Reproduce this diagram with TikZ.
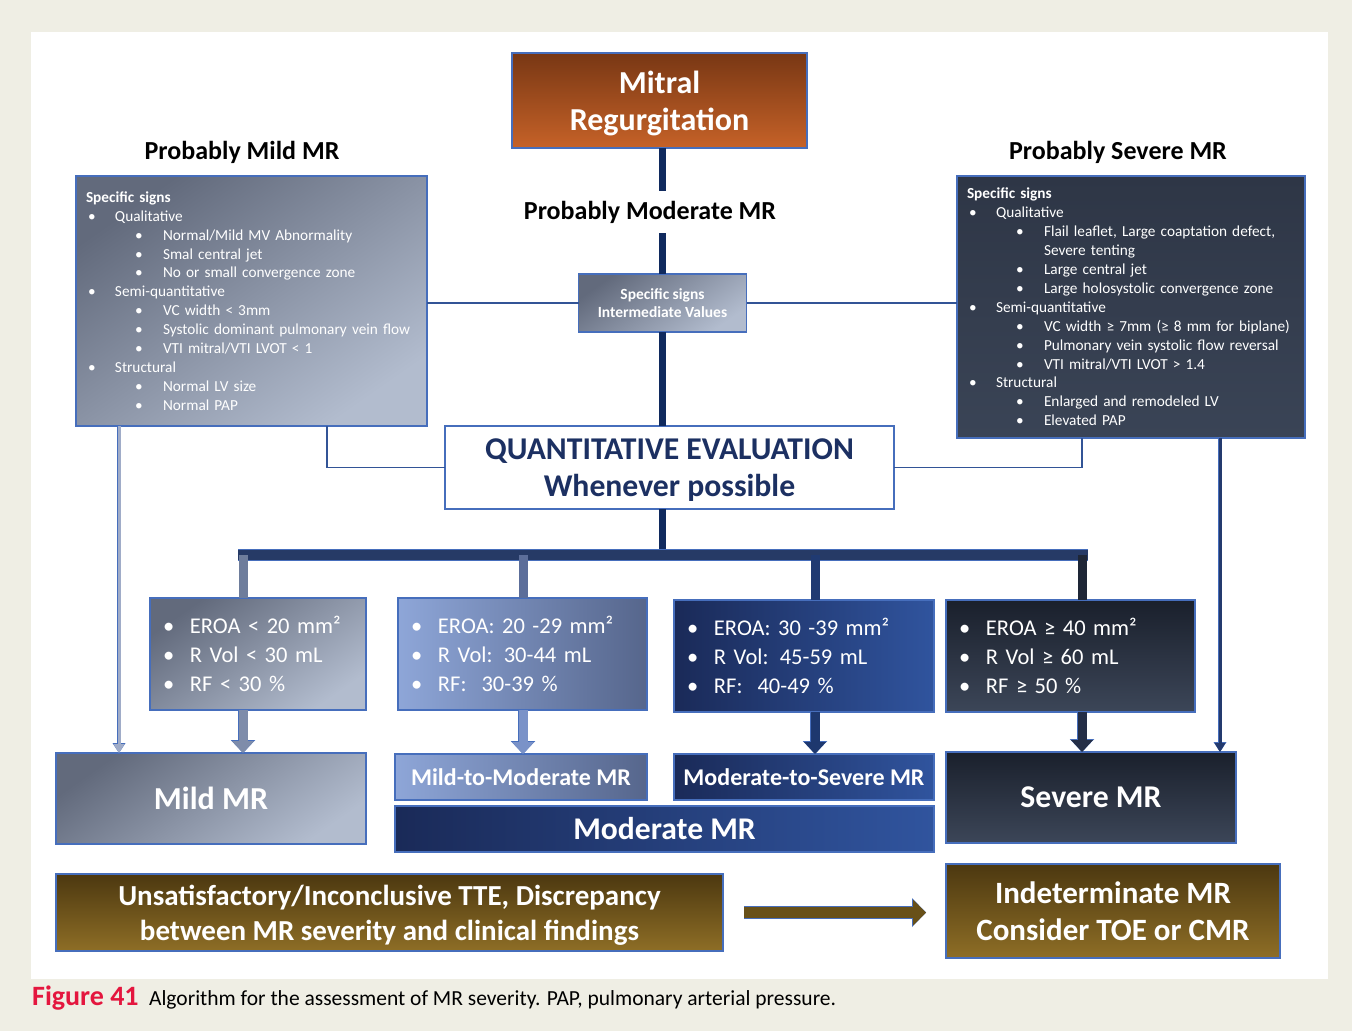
\documentclass[tikz,border=0pt]{standalone}
\usepackage{fontspec}
\setmainfont{Carlito}
\usepackage{tikz}
\usetikzlibrary{arrows.meta,positioning}

\definecolor{cream}{RGB}{239,238,228}
\definecolor{navy}{RGB}{16,42,94}
\definecolor{boxline}{RGB}{70,110,188}
\definecolor{linkblue}{RGB}{50,84,150}
\definecolor{slateA}{RGB}{98,106,124}
\definecolor{slateB}{RGB}{178,188,206}
\definecolor{nightA}{RGB}{46,54,70}
\definecolor{nightB}{RGB}{58,68,86}
\definecolor{rustA}{RGB}{120,55,20}
\definecolor{rustB}{RGB}{198,98,40}
\definecolor{skyA}{RGB}{142,166,216}
\definecolor{skyB}{RGB}{86,102,140}
\definecolor{royalA}{RGB}{26,42,88}
\definecolor{royalB}{RGB}{48,84,158}
\definecolor{inkA}{RGB}{26,32,44}
\definecolor{inkB}{RGB}{60,70,88}
\definecolor{oliveA}{RGB}{76,56,16}
\definecolor{oliveB}{RGB}{142,110,38}
\definecolor{quanttext}{RGB}{28,48,98}
\definecolor{figred}{RGB}{228,22,62}
\definecolor{busblue}{RGB}{38,58,102}

\newcommand{\sidefont}{\fontsize{15.3}{18.9}\selectfont}
\newcommand{\rowfont}{\fontsize{22.5}{29}\selectfont}
\newcommand{\lvlone}[1]{\hspace*{2pt}\makebox[27pt][l]{\textbullet}#1}
\newcommand{\lvltwo}[1]{\hspace*{49pt}\makebox[28pt][l]{\textbullet}#1}
\newcommand{\bul}{\makebox[27pt][l]{\textbullet}}

\tikzstyle{box} = [draw=boxline, line width=1.3pt, inner sep=0pt, outer sep=0pt, text=white, align=center]
\tikzstyle{greybox} = [box, top color=slateA, bottom color=slateB, shading angle=35]
\tikzstyle{nightbox} = [box, top color=nightA, bottom color=nightB]
\tikzstyle{rustbox} = [box, top color=rustA, bottom color=rustB]
\tikzstyle{skybox} = [box, left color=skyA, right color=skyB]
\tikzstyle{royalbox} = [box, left color=royalA, right color=royalB]
\tikzstyle{inkbox} = [box, top color=inkA, bottom color=inkB]
\tikzstyle{olivebox} = [box, top color=oliveA, bottom color=oliveB]
\tikzstyle{heading} = [inner sep=0pt, font=\bfseries\fontsize{26}{30}\selectfont]
\tikzstyle{trunk} = [draw=navy, line width=7.5pt]
\tikzstyle{bus} = [draw=busblue, line width=10pt, preaction={draw=boxline, line width=11.5pt}]
\tikzstyle{drop} = [line width=9pt]
\tikzstyle{link} = [draw=linkblue, line width=1.6pt]
\tikzstyle{fat} = [line width=9pt, -{Triangle[width=22pt, length=12pt, line width=0pt]},
  preaction={draw=boxline, line width=10.6pt, -{Triangle[width=24.5pt, length=13pt, line width=0pt]}}]
\tikzstyle{leg} = [line width=3pt, -{Triangle[width=11pt, length=9pt, line width=0pt]},
  preaction={draw=boxline, line width=4.8pt, -{Triangle[width=13pt, length=10pt, line width=0pt]}}]

\begin{document}
\begin{tikzpicture}[x=1pt, y=-1pt]

% page ==========================================
\fill[cream] (0,0) rectangle (1352,1031);
\fill[white] (31,32) rectangle (1328,979);

% top of the tree ===============================
\node[rustbox, minimum width=295pt, minimum height=95pt, text depth=0pt, font=\bfseries\fontsize{32}{37}\selectfont] (mitral) at (659.5,100.5) {Mitral\\Regurgitation};
\node[heading, minimum height=42pt] (modtitle) at (650,212) {Probably Moderate MR};
\node[greybox, minimum width=168pt, minimum height=58pt, font=\bfseries\fontsize{15.5}{18}\selectfont] (signs) at (662.5,303) {Specific signs\\Intermediate Values};

\node[heading] (mildtitle) at (242,152) {Probably Mild MR};
\node[heading] (sevtitle) at (1118,152) {Probably Severe MR};

% specific signs, left and right
\node[greybox, minimum width=351pt, minimum height=250pt, text width=331pt, align=left, font=\sidefont] (mildsigns) at (251.5,301) {%
\textbf{Specific signs}\\
\lvlone{Qualitative}\\
\lvltwo{Normal/Mild MV Abnormality}\\
\lvltwo{Smal central jet}\\
\lvltwo{No or small convergence zone}\\
\lvlone{Semi-quantitative}\\
\lvltwo{VC width < 3mm}\\
\lvltwo{Systolic dominant pulmonary vein flow}\\
\lvltwo{VTI mitral/VTI LVOT < 1}\\
\lvlone{Structural}\\
\lvltwo{Normal LV size}\\
\lvltwo{Normal PAP}};

\node[nightbox, minimum width=348pt, minimum height=262pt, text width=328pt, align=left, font=\sidefont] (sevsigns) at (1131,307) {%
\textbf{Specific signs}\\
\lvlone{Qualitative}\\
\lvltwo{Flail leaflet, Large coaptation defect,}\\
\hspace*{77pt}Severe tenting\\
\lvltwo{Large central jet}\\
\lvltwo{Large holosystolic convergence zone}\\
\lvlone{Semi-quantitative}\\
\lvltwo{VC width ≥ 7mm (≥ 8 mm for biplane)}\\
\lvltwo{Pulmonary vein systolic flow reversal}\\
\lvltwo{VTI mitral/VTI LVOT > 1.4}\\
\lvlone{Structural}\\
\lvltwo{Enlarged and remodeled LV}\\
\lvltwo{Elevated PAP}};

% quantitative step
\node[box, fill=white, text=quanttext, minimum width=449pt, minimum height=83pt, text depth=0pt, font=\bfseries\fontsize{31.7}{37}\selectfont] (quant) at (669.5,467.5) {QUANTITATIVE EVALUATION\\Whenever possible};

% thresholds ====================================
\node[greybox, minimum width=216pt, minimum height=112pt, text width=190pt, align=left, font=\rowfont] (eroaA) at (258,654) {\bul EROA < 20 mm²\\ \bul R Vol < 30 mL\\ \bul RF < 30 \%};
\node[skybox, minimum width=249pt, minimum height=112pt, text width=223pt, align=left, font=\rowfont] (eroaB) at (522.5,654) {\bul EROA: 20 -29 mm²\\ \bul R Vol: 30-44 mL\\ \bul RF:\ \ 30-39 \%};
\node[royalbox, minimum width=260pt, minimum height=112pt, text width=234pt, align=left, font=\rowfont] (eroaC) at (804,656) {\bul EROA: 30 -39 mm²\\ \bul R Vol: 45-59 mL\\ \bul RF:\ \ 40-49 \%};
\node[inkbox, minimum width=249pt, minimum height=112pt, text width=223pt, align=left, font=\rowfont] (eroaD) at (1070.5,656) {\bul EROA ≥ 40 mm²\\ \bul R Vol ≥ 60 mL\\ \bul RF ≥ 50 \%};

% grades ========================================
\node[greybox, minimum width=310pt, minimum height=91pt, font=\bfseries\fontsize{32}{36}\selectfont] (mild) at (211,798.5) {Mild MR};
\node[skybox, minimum width=252pt, minimum height=46pt, font=\bfseries\fontsize{24}{28}\selectfont] (mildmod) at (521,777) {Mild-to-Moderate MR};
\node[royalbox, minimum width=260pt, minimum height=46pt, font=\bfseries\fontsize{24}{28}\selectfont] (modsev) at (804,777) {Moderate-to-Severe MR};
\node[royalbox, minimum width=539pt, minimum height=46pt, font=\bfseries\fontsize{31.6}{36}\selectfont] (moderate) at (664.5,829) {Moderate MR};
\node[inkbox, minimum width=290pt, minimum height=91pt, font=\bfseries\fontsize{31.7}{36}\selectfont] (severe) at (1091,797.5) {Severe MR};

% fallback
\node[olivebox, minimum width=667pt, minimum height=77pt, text depth=0pt, font=\bfseries\fontsize{29}{35}\selectfont] (unsat) at (389.5,912.5) {Unsatisfactory/Inconclusive TTE, Discrepancy\\between MR severity and clinical findings};
\node[olivebox, minimum width=334pt, minimum height=94pt, font=\bfseries\fontsize{31}{37}\selectfont] (indet) at (1113,911) {Indeterminate MR\\Consider TOE or CMR};

% caption
\node[anchor=base west, inner sep=0pt, text=figred, font=\bfseries\fontsize{28}{30}\selectfont] (fignum) at (32,1005) {Figure 41};
\node[anchor=base west, inner sep=0pt, font=\fontsize{21.5}{24}\selectfont] (figtext) at ([xshift=10pt]fignum.base east) {Algorithm for the assessment of MR severity. PAP, pulmonary arterial pressure.};

% helper points
\coordinate (busL) at (238,555);
\coordinate (busR) at (1088,555);
\coordinate (dropA) at (243,555);
\coordinate (dropB) at (523,555);
\coordinate (dropC) at (815,555);
\coordinate (dropD) at (1082,555);
\coordinate (mildleg) at (119,0);
\coordinate (mildtap) at (327,0);
\coordinate (sevtap) at (1082,0);
\coordinate (sevleg) at (1220,0);

%edges
\path[trunk] (signs.north |- mitral.south) -- (signs.north |- modtitle.north);
\path[trunk] (signs.north |- modtitle.south) -- (signs.north);
\path[trunk] (signs.south) -- (signs.south |- quant.north);
\path[trunk] (signs.south |- quant.south) -- (signs.south |- busL);

\path[link] (signs.west) -- (signs.west -| mildsigns.east);
\path[link] (signs.east) -- (signs.east -| sevsigns.west);
\path[link] (mildtap |- mildsigns.south) |- (quant.west);
\path[link] (sevtap |- sevsigns.south) |- (quant.east);

\path[bus] (busL) -- (busR);
\path[drop, draw={rgb,255:red,110;green,125;blue,156}] (dropA) -- (dropA |- eroaA.north);
\path[drop, draw={rgb,255:red,92;green,110;blue,154}] (dropB) -- (dropB |- eroaB.north);
\path[drop, draw={rgb,255:red,32;green,58;blue,114}] (dropC) -- (dropC |- eroaC.north);
\path[drop, draw={rgb,255:red,30;green,38;blue,54}] (dropD) -- (dropD |- eroaD.north);

\path[fat, draw={rgb,255:red,126;green,140;blue,170}] (dropA |- eroaA.south) -- (dropA |- mild.north);
\path[fat, draw={rgb,255:red,122;green,146;blue,200}] (dropB |- eroaB.south) -- (dropB |- mildmod.north);
\path[fat, draw={rgb,255:red,30;green,56;blue,110}] (dropC |- eroaC.south) -- (dropC |- modsev.north);
\path[fat, draw={rgb,255:red,36;green,46;blue,70}] (dropD |- eroaD.south) -- (dropD |- severe.north);

\path[leg, draw={rgb,255:red,160;green,172;blue,200}] (mildleg |- mildsigns.south) -- (mildleg |- mild.north);
\path[leg, draw={rgb,255:red,36;green,58;blue,110}] (sevleg |- sevsigns.south) -- (sevleg |- severe.north);

\path[fat, line width=11pt, draw={rgb,255:red,104;green,80;blue,24}, -{Triangle[width=26pt, length=13pt, line width=0pt]},
  preaction={draw=boxline, line width=12.6pt, -{Triangle[width=29pt, length=14pt, line width=0pt]}}] ([xshift=21pt]unsat.east) -- ([xshift=-20pt]indet.west |- unsat.east);

\end{tikzpicture}
\end{document}
